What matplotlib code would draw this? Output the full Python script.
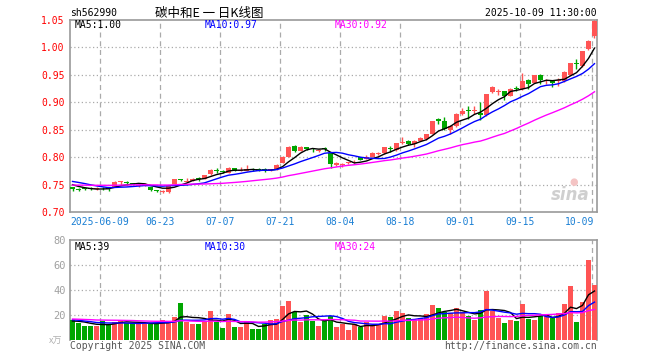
import numpy as np
import matplotlib
matplotlib.use('Agg')
import matplotlib.pyplot as plt

# ---------------- data ----------------
open_ = [0.745, 0.741, 0.743, 0.743, 0.742, 0.744, 0.743, 0.746, 0.754, 0.755,
         0.752, 0.748, 0.749, 0.745, 0.740, 0.737, 0.737, 0.751, 0.760, 0.755,
         0.757, 0.762, 0.761, 0.769, 0.776, 0.775, 0.772, 0.780, 0.775, 0.775,
         0.778, 0.779, 0.779, 0.776, 0.778, 0.790, 0.801, 0.821, 0.812, 0.818,
         0.815, 0.812, 0.816, 0.807, 0.786, 0.786, 0.789, 0.790, 0.800, 0.797,
         0.801, 0.806, 0.807, 0.817, 0.813, 0.826, 0.830, 0.824, 0.830, 0.833,
         0.843, 0.869, 0.865, 0.850, 0.856, 0.878, 0.885, 0.884, 0.880, 0.876,
         0.918, 0.919, 0.920, 0.912, 0.926, 0.924, 0.940, 0.936, 0.950, 0.939,
         0.939, 0.939, 0.938, 0.950, 0.971, 0.966, 0.997, 1.020]
high = [0.746, 0.743, 0.744, 0.745, 0.745, 0.745, 0.745, 0.756, 0.756, 0.756,
        0.753, 0.751, 0.752, 0.746, 0.741, 0.740, 0.750, 0.761, 0.761, 0.762,
        0.762, 0.764, 0.768, 0.778, 0.780, 0.776, 0.782, 0.781, 0.782, 0.785,
        0.780, 0.780, 0.780, 0.779, 0.788, 0.802, 0.820, 0.823, 0.820, 0.819,
        0.817, 0.815, 0.819, 0.808, 0.791, 0.789, 0.792, 0.794, 0.801, 0.804,
        0.809, 0.810, 0.819, 0.820, 0.826, 0.836, 0.831, 0.831, 0.836, 0.843,
        0.866, 0.871, 0.873, 0.858, 0.880, 0.890, 0.894, 0.893, 0.901, 0.916,
        0.929, 0.925, 0.921, 0.926, 0.930, 0.953, 0.943, 0.950, 0.951, 0.943,
        0.941, 0.945, 0.957, 0.972, 0.978, 0.994, 1.013, 1.050]
low = [0.739, 0.738, 0.740, 0.741, 0.741, 0.741, 0.739, 0.745, 0.750, 0.751,
       0.749, 0.745, 0.748, 0.738, 0.736, 0.734, 0.735, 0.750, 0.757, 0.755,
       0.756, 0.757, 0.760, 0.768, 0.771, 0.771, 0.771, 0.774, 0.774, 0.775,
       0.775, 0.775, 0.773, 0.774, 0.777, 0.789, 0.800, 0.809, 0.811, 0.813,
       0.809, 0.810, 0.811, 0.780, 0.784, 0.782, 0.787, 0.790, 0.794, 0.796,
       0.800, 0.804, 0.806, 0.810, 0.812, 0.824, 0.823, 0.819, 0.829, 0.832,
       0.842, 0.860, 0.850, 0.843, 0.855, 0.877, 0.870, 0.878, 0.868, 0.875,
       0.917, 0.913, 0.905, 0.911, 0.920, 0.923, 0.924, 0.935, 0.933, 0.933,
       0.928, 0.929, 0.937, 0.949, 0.960, 0.965, 0.996, 1.018]
close = [0.742, 0.740, 0.742, 0.742, 0.743, 0.743, 0.742, 0.755, 0.755, 0.752,
         0.750, 0.749, 0.751, 0.740, 0.739, 0.738, 0.749, 0.760, 0.759, 0.757,
         0.761, 0.761, 0.767, 0.777, 0.775, 0.773, 0.781, 0.775, 0.777, 0.778,
         0.777, 0.775, 0.774, 0.777, 0.786, 0.801, 0.819, 0.812, 0.819, 0.815,
         0.814, 0.813, 0.815, 0.788, 0.790, 0.787, 0.790, 0.792, 0.795, 0.801,
         0.808, 0.807, 0.818, 0.814, 0.825, 0.828, 0.824, 0.830, 0.835, 0.842,
         0.865, 0.866, 0.851, 0.857, 0.879, 0.885, 0.884, 0.885, 0.877, 0.915,
         0.927, 0.920, 0.912, 0.925, 0.925, 0.939, 0.933, 0.949, 0.940, 0.940,
         0.935, 0.940, 0.955, 0.971, 0.969, 0.993, 1.012, 1.049]
volume = [16, 13.9, 11, 11, 11, 15.2, 13, 14.4, 16, 14,
          14, 12.5, 13, 13, 13, 16, 14, 18.7, 29.9, 14.7,
          13, 13, 15.5, 23.2, 14.4, 9.6, 20.8, 10.7, 10.7, 15.2,
          8.8, 8.8, 12.8, 16, 16.8, 27.5, 31.2, 22.7, 14.4, 20,
          15.5, 11.5, 15.2, 19, 10.4, 12.5, 8, 12.8, 10.1, 14.7,
          11.7, 11.7, 19.5, 18.4, 23.2, 21.6, 17.6, 16, 17.9, 20.8,
          28, 25.6, 22.1, 21.6, 25.6, 22.1, 19.2, 16, 24, 39.5,
          23.2, 17.6, 13.6, 16, 15.2, 28.8, 16.8, 16, 19.2, 20,
          17.6, 21.6, 28.8, 43.2, 14.4, 30.4, 64, 44]
# sessions before the visible window (only feed the moving averages)
pre_close = [0.742, 0.745, 0.748, 0.744, 0.741, 0.746, 0.750, 0.748, 0.745, 0.743,
             0.747, 0.749, 0.744, 0.742, 0.746, 0.748, 0.745, 0.743, 0.748, 0.751,
             0.758, 0.762, 0.765, 0.763, 0.760, 0.756, 0.753, 0.750, 0.748]
pre_volume = [18, 17, 16, 19, 17, 15, 16, 18, 17, 16, 19, 18, 17, 16, 15,
              17, 18, 16, 17, 19, 18, 17, 16, 18, 17, 15, 14, 16, 15]

date_idx = [5, 15, 25, 35, 45, 55, 65, 75, 87]
date_labels = ['2025-06-09', '06-23', '07-07', '07-21', '08-04', '08-18',
               '09-01', '09-15', '10-09']
price_ticks = [0.70, 0.75, 0.80, 0.85, 0.90, 0.95, 1.00, 1.05]
vol_ticks = [20, 40, 60, 80]

code = 'sh562990'
title = '碳中和E 一 日K线图'
stamp = '2025-10-09 11:30:00'

# ---------------- helpers ----------------
def ma(pre, vals, n):
    s = np.array(pre + vals, dtype=float)
    out = np.convolve(s, np.ones(n) / n, mode='full')[:len(s)]
    return out[len(pre):]

N = len(close)
x = np.arange(N)
o = np.array(open_); h = np.array(high); l = np.array(low); c = np.array(close)
v = np.array(volume)
up = c >= o
RED = '#ff5454'
GREEN = '#00a600'
colors = [RED if u else GREEN for u in up]

ma5 = ma(pre_close, close, 5)
ma10 = ma(pre_close, close, 10)
ma30 = ma(pre_close, close, 30)
vma5 = ma(pre_volume, volume, 5)
vma10 = ma(pre_volume, volume, 10)
vma30 = ma(pre_volume, volume, 30)

MONO = 'DejaVu Sans Mono'
GRID = '#aaaaaa'
SPINE = '#999999'

W, H = 660, 360
fig = plt.figure(figsize=(W / 100, H / 100), dpi=100)

def frac(x0, y0, x1, y1):
    return [x0 / W, 1 - y1 / H, (x1 - x0) / W, (y1 - y0) / H]

ax = fig.add_axes(frac(70, 20, 597, 212))
axv = fig.add_axes(frac(70, 240, 597, 340))

xlim = (-0.4167, N - 1 + 0.4167)

# ---------------- price panel ----------------
ax.vlines(x, l, h, colors=colors, linewidth=1.0, zorder=3)
body_lo = np.minimum(o, c)
body_h = np.maximum(np.abs(c - o), 0.0016)
ax.bar(x, body_h, bottom=body_lo, width=0.8, color=colors, linewidth=0, zorder=4)
ax.plot(x, ma5, color='black', lw=1.0, zorder=5)
ax.plot(x, ma10, color='#0000ff', lw=1.0, zorder=5)
ax.plot(x, ma30, color='#ff00ff', lw=1.0, zorder=5)

ax.set_xlim(*xlim)
ax.set_ylim(0.70, 1.05)
ax.set_yticks(price_ticks)
ax.set_yticklabels([f'{t:.2f}' for t in price_ticks], color='red',
                   fontfamily=MONO, fontsize=7)
for t in price_ticks[1:-1]:
    ax.axhline(t, color=GRID, lw=0.9, ls=(0, (1, 2)), zorder=1)
for d in date_idx:
    ax.axvline(d - 0.42, color=GRID, lw=0.9, ls=(0, (4, 3)), zorder=1)
ax.set_xticks([])
ax.tick_params(axis='y', length=0, pad=4)
for s in ax.spines.values():
    s.set_color(SPINE)
    s.set_linewidth(1.2)

# x date labels
for d, lab in zip(date_idx, date_labels):
    xp = d - 0.42
    ha = 'center'
    if d == date_idx[-1]:
        xp = N - 1 - 0.1
        ha = 'right'
    ax.text(xp, -0.05, lab, transform=ax.get_xaxis_transform(), ha=ha,
            va='center', color='#1a7fd4', fontfamily=MONO, fontsize=7)

# MA legends
ax.text(75 / W, 1 - 25.5 / H, f'MA5:{ma5[-1]:.2f}', transform=fig.transFigure,
        color='black', fontfamily=MONO, fontsize=7, va='center')
fig.text(205 / W, 1 - 25.5 / H, f'MA10:{ma10[-1]:.2f}', color='#0000ff',
         fontfamily=MONO, fontsize=7, va='center')
fig.text(335 / W, 1 - 25.5 / H, f'MA30:{ma30[-1]:.2f}', color='#ff00ff',
         fontfamily=MONO, fontsize=7, va='center')

# watermark
ax.text(0.985, 0.09, 'sina', transform=ax.transAxes, ha='right', va='center',
        color='#cfcfcf', fontsize=12, fontweight='bold', style='italic', zorder=2)
ax.text(0.955, 0.155, '●', transform=ax.transAxes, ha='center', va='center',
        color='#f4c4c4', fontsize=7, zorder=2)

# header
fig.text(70 / W, 1 - 13.5 / H, code, fontfamily=MONO, fontsize=7, va='center')
fig.text(209 / W, 1 - 13 / H, title, fontfamily=['Noto Sans CJK SC', 'DejaVu Sans'],
         fontsize=9, ha='center', va='center')
fig.text(597 / W, 1 - 13.5 / H, stamp, fontfamily=MONO, fontsize=7,
         ha='right', va='center')

# ---------------- volume panel ----------------
axv.bar(x, v, width=0.83, color=colors, linewidth=0, zorder=3)
axv.plot(x, vma5, color='black', lw=1.0, zorder=4)
axv.plot(x, vma10, color='#0000ff', lw=1.0, zorder=4)
axv.plot(x, vma30, color='#ff00ff', lw=1.0, zorder=4)
axv.set_xlim(*xlim)
axv.set_ylim(0, 80)
axv.set_yticks(vol_ticks)
axv.set_yticklabels([str(t) for t in vol_ticks], color='#a0a0a0',
                    fontfamily=MONO, fontsize=7.5)
axv.tick_params(axis='y', length=0, pad=3)
axv.set_xticks([])
for t in vol_ticks[:-1]:
    axv.axhline(t, color=GRID, lw=0.9, ls=(0, (1, 2)), zorder=1)
for d in date_idx:
    axv.axvline(d - 0.42, color=GRID, lw=0.9, ls=(0, (4, 3)), zorder=1)
for s in axv.spines.values():
    s.set_color(SPINE)
    s.set_linewidth(1.2)
axv.spines['bottom'].set_visible(False)

fig.text(75 / W, 1 - 246.5 / H, f'MA5:{vma5[-1]:.0f}', color='black',
         fontfamily=MONO, fontsize=7, va='center')
fig.text(205 / W, 1 - 246.5 / H, f'MA10:{vma10[-1]:.0f}', color='#0000ff',
         fontfamily=MONO, fontsize=7, va='center')
fig.text(335 / W, 1 - 246.5 / H, f'MA30:{vma30[-1]:.0f}', color='#ff00ff',
         fontfamily=MONO, fontsize=7, va='center')
fig.text(49 / W, 1 - 341 / H, 'x万', color='#b0b0b0',
         fontfamily=['Noto Sans CJK SC', 'DejaVu Sans'], fontsize=6.5, va='center')

fig.text(70 / W, 1 - 346 / H, 'Copyright 2025 SINA.COM', color='#555555',
         fontfamily=MONO, fontsize=7, va='center')
fig.text(597 / W, 1 - 346 / H, 'http://finance.sina.com.cn', color='#555555',
         fontfamily=MONO, fontsize=7, va='center', ha='right')

fig.savefig('out.png', dpi=100, facecolor='white')
